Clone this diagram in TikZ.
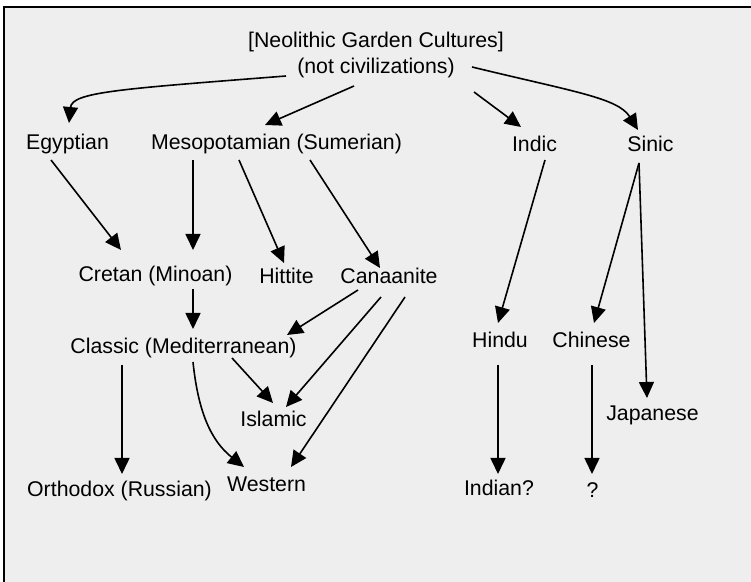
\documentclass[tikz,border=0pt]{standalone}
\usepackage{fontspec}
\setmainfont{Liberation Sans}
\usetikzlibrary{arrows.meta,calc}
\definecolor{bgc}{HTML}{EEEEEE}
\begin{document}
\begin{tikzpicture}[x=0.5pt,y=-0.5pt,
  lbl/.style={inner sep=0pt, align=center, font=\fontsize{10.65pt}{13pt}\selectfont},
  conn/.style={line width=0.8pt, -{Triangle[length=8pt,width=7.5pt]}}]
\useasboundingbox (0,0) rectangle (751,582);
\fill[bgc] (4,7) rectangle (751,582);
\draw[line width=1pt] (4,582) -- (4,7) -- (751,7);
% nodes
\node[lbl] (root) at (376,55) {[Neolithic Garden Cultures]\\(not civilizations)};
\node[lbl] (egy) at (67.5,144) {Egyptian};
\node[lbl] (meso) at (276.5,144) {Mesopotamian (Sumerian)};
\node[lbl] (indic) at (534.5,144) {Indic};
\node[lbl] (sinic) at (650.5,144) {Sinic};
\node[lbl] (cretan) at (155.5,276) {Cretan (Minoan)};
\node[lbl] (hittite) at (286.5,276) {Hittite};
\node[lbl] (canaan) at (389,276) {Canaanite};
\node[lbl] (classic) at (183.5,348) {Classic (Mediterranean)};
\node[lbl] (hindu) at (500,340) {Hindu};
\node[lbl] (chinese) at (591.5,340) {Chinese};
\node[lbl] (islamic) at (273.5,419) {Islamic};
\node[lbl] (japanese) at (652.5,415) {Japanese};
\node[lbl] (orthodox) at (119.5,491) {Orthodox (Russian)};
\node[lbl] (western) at (266.5,484) {Western};
\node[lbl] (indian) at (499,488) {Indian?};
\node[lbl] (q) at (592.5,490) {?};
% connectors
\draw[conn] ($(root)+(-90,21)$) .. controls ($(root)+(-256,34)$) and ($(egy)+(4.5,-52)$) .. ($(egy)+(1.5,-21)$);
\draw[conn] ($(root)+(-22,31)$) -- ($(meso)+(-11.5,-19)$);
\draw[conn] ($(root)+(98,37)$) -- ($(indic)+(-13.5,-17)$);
\draw[conn] ($(root)+(96,12)$) .. controls ($(root)+(199,37)$) and ($(sinic)+(-32.5,-46)$) .. ($(sinic)+(-12.5,-14)$);
\draw[conn] ($(egy)+(-16.5,16)$) -- ($(cretan)+(-34.5,-26)$);
\draw[conn] ($(meso)+(-83.5,16)$) -- ($(cretan)+(37.5,-26)$);
\draw[conn] ($(meso)+(-37.5,16)$) -- ($(hittite)+(-2.5,-13)$);
\draw[conn] ($(meso)+(33.5,16)$) -- ($(canaan)+(-9,-8)$);
\draw[conn] ($(indic)+(10.5,16)$) -- ($(hindu)+(-2,-17)$);
\draw[conn] ($(sinic)+(-11.5,19)$) -- ($(chinese)+(2.5,-17)$);
\draw[conn] ($(sinic)+(-11.5,19)$) -- ($(japanese)+(-5.5,-17)$);
\draw[conn] ($(cretan)+(37.5,13)$) -- ($(classic)+(9.5,-19)$);
\draw[conn] ($(canaan)+(-31,14)$) -- ($(classic)+(103.5,-13)$);
\draw[conn] ($(canaan)+(-8,21)$) -- ($(islamic)+(12.5,-12)$);
\draw[conn] ($(canaan)+(16,21)$) -- ($(western)+(24.5,-17)$);
\draw[conn] ($(classic)+(48.5,10)$) -- ($(islamic)+(-0.5,-16)$);
\draw[conn] ($(classic)+(9.5,14)$) .. controls ($(classic)+(14.5,62)$) and ($(western)+(-56.5,-44)$) .. ($(western)+(-22.5,-17)$);
\draw[conn] ($(classic)+(-61.5,17)$) -- ($(orthodox)+(2.5,-17)$);
\draw[conn] ($(hindu)+(-2,25)$) -- ($(indian)+(-1,-14)$);
\draw[conn] ($(chinese)+(0.5,25)$) -- ($(q)+(-0.5,-16)$);
\end{tikzpicture}
\end{document}
